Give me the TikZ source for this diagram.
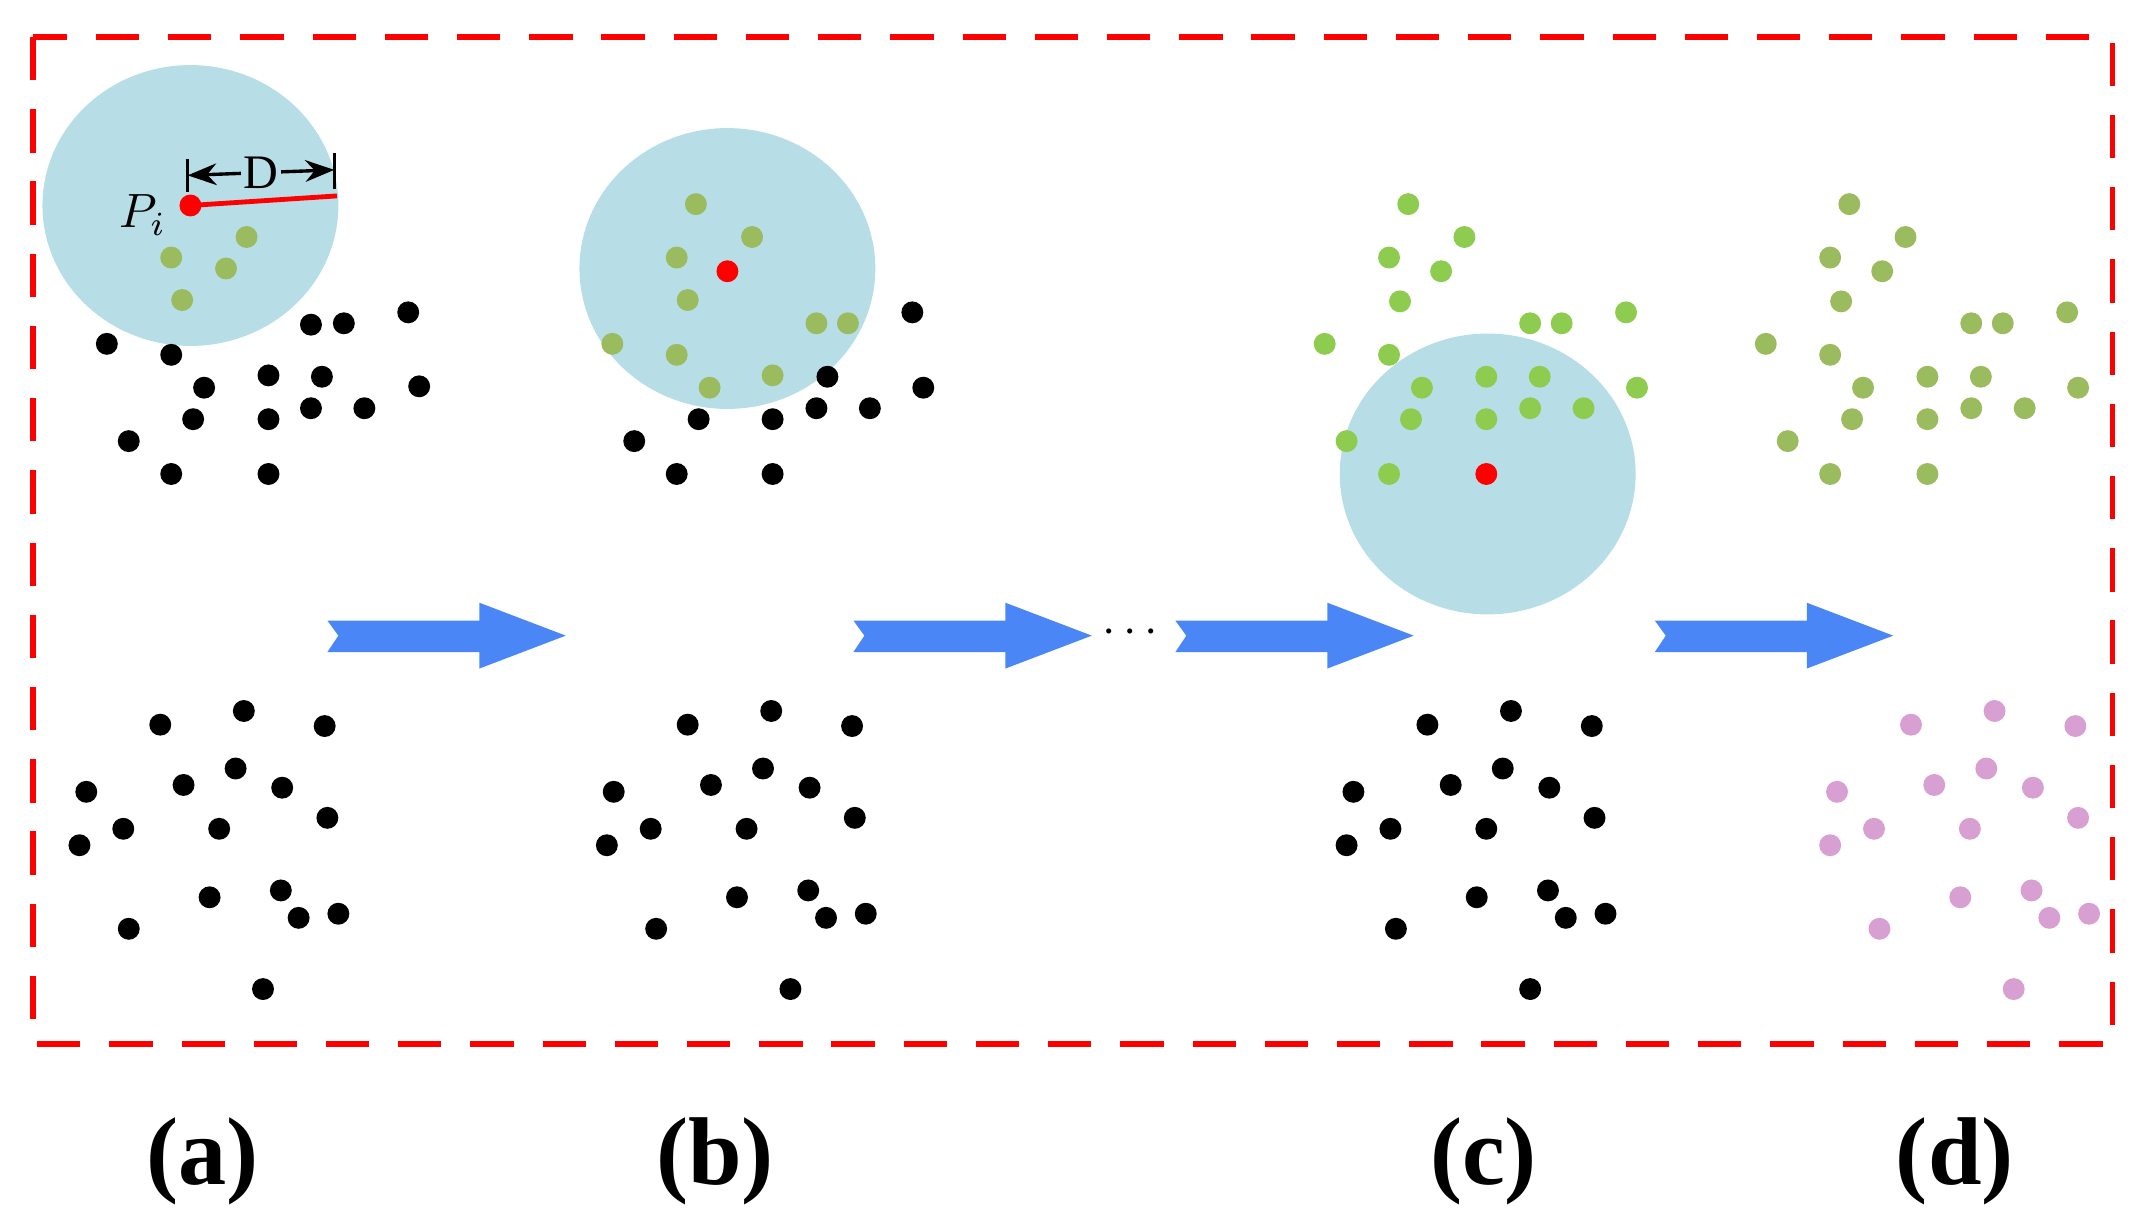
\documentclass[tikz,border=0pt]{standalone}
\usepackage{fontspec}
\setmainfont{Liberation Serif}
\usetikzlibrary{arrows.meta,
                shapes.geometric, % For the ellipse zones
                positioning, % For easy node-relative placements
               }
\definecolor{zone}{HTML}{B7DDE6}
\definecolor{olive}{HTML}{9BBB5F}
\definecolor{lime}{HTML}{8DCC4F}
\definecolor{pink}{HTML}{D79FD2}
\definecolor{flow}{HTML}{4A86F5}
\newlength{\pxl}
\setlength{\pxl}{0.1mm}
\tikzstyle{pt} = [circle, inner sep=0pt, minimum size=16\pxl]
\tikzstyle{zone} = [ellipse, fill=zone, inner sep=0pt, minimum width=216\pxl, minimum height=205\pxl]
\tikzstyle{flowarrow} = [fill=flow]
\tikzstyle{caption} = [font=\bfseries\fontsize{20}{22}\selectfont]

\begin{document}
\begin{tikzpicture}[x=0.1mm, y=-0.1mm]
  \useasboundingbox (0,0) rectangle (1560,899);
  \draw [red, line width=1.1pt, dash pattern=on 9pt off 6pt] (24,27) rectangle (1542,762);

  % (a)
  \node (za) [zone] at (139,150) {};
  \foreach \x/\y [count=\i] in {125/188, 180/173, 165/196, 133/219}
    \node (ga\i) [pt, fill=olive] at (\x,\y) {};
  \foreach \x/\y [count=\i] in {78/251, 125/259, 227/237, 251/236, 298/228, 149/283, 196/274, 235/275, 306/282, 141/306, 196/306, 227/298, 266/298, 94/322, 125/346, 196/346}
    \node (ka\i) [pt, fill=black] at (\x,\y) {};
  \node (pa) [pt, fill=red] at (139,150) {};
  \coordinate (ea) at (246,143);
  \draw [red, line width=1pt] (pa.center) -- (ea);
  \node (pi) [left=-1pt of pa, font=\fontsize{10}{11}\selectfont, yshift=-2pt] {$P_i$};
  \coordinate (ta1) at (137,116); \coordinate (ta2) at (137,140);
  \coordinate (tb1) at (244,112); \coordinate (tb2) at (244,138);
  \draw [line width=0.7pt] (ta1) -- (ta2) (tb1) -- (tb2);
  \draw [{Stealth[length=6pt]}-{Stealth[length=6pt]}, line width=0.7pt] (137,128) -- (244,124)
    node (dd) [midway, fill=zone, inner sep=0.5pt, font=\fontsize{10}{10}\selectfont] {D};
  \foreach \x/\y [count=\i] in {117/529, 178/519, 237/530, 63/578, 134/573, 172/561, 206/575, 90/605, 160/605, 239/597, 58/617, 153/655, 205/650, 218/670, 247/667, 94/678, 192/722}
    \node (la\i) [pt, fill=black] at (\x,\y) {};

  % (b)
  \node (zb) [zone] at (531,196) {};
  \foreach \x/\y [count=\i] in {508/149, 549/173, 494/188, 502/219, 447/251, 494/259, 596/236, 619/236, 518/283, 564/274}
    \node (gb\i) [pt, fill=olive] at (\x,\y) {};
  \foreach \x/\y [count=\i] in {666/228, 604/275, 674/283, 510/306, 564/306, 596/298, 635/298, 463/322, 494/346, 564/346}
    \node (kb\i) [pt, fill=black] at (\x,\y) {};
  \node (pb) [pt, fill=red] at (531,198) {};
  \foreach \x/\y [count=\i] in {117/529, 178/519, 237/530, 63/578, 134/573, 172/561, 206/575, 90/605, 160/605, 239/597, 58/617, 153/655, 205/650, 218/670, 247/667, 94/678, 192/722}
    \node (lb\i) [pt, fill=black] at (\x+385,\y) {};

  % (c)
  \node (zc) [zone] at (1086,346) {};
  \foreach \x/\y [count=\i] in {1028/149, 1069/173, 1014/188, 1052/198, 1022/220, 967/251, 1014/259, 1117/236, 1140/236, 1187/228, 1038/283, 1085/275, 1124/275, 1195/283, 1030/306, 1085/306, 1117/298, 1156/298, 983/322, 1014/346}
    \node (gc\i) [pt, fill=lime] at (\x,\y) {};
  \node (pc) [pt, fill=red] at (1085,346) {};
  \foreach \x/\y [count=\i] in {117/529, 178/519, 237/530, 63/578, 134/573, 172/561, 206/575, 90/605, 160/605, 239/597, 58/617, 153/655, 205/650, 218/670, 247/667, 94/678, 192/722}
    \node (lc\i) [pt, fill=black] at (\x+925,\y) {};

  % (d)
  \foreach \x/\y [count=\i] in {1028/149, 1069/173, 1014/188, 1052/198, 1022/220, 967/251, 1014/259, 1117/236, 1140/236, 1187/228, 1038/283, 1085/275, 1124/275, 1195/283, 1030/306, 1085/306, 1117/298, 1156/298, 983/322, 1014/346, 1085/346}
    \node (gd\i) [pt, fill=olive] at (\x+322,\y) {};
  \foreach \x/\y [count=\i] in {117/529, 178/519, 237/530, 63/578, 134/573, 172/561, 206/575, 90/605, 160/605, 239/597, 58/617, 153/655, 205/650, 218/670, 247/667, 94/678, 192/722}
    \node (ld\i) [pt, fill=pink] at (\x+1278,\y) {};

  % arrows
  \foreach \s in {239, 623, 858, 1208}
    \fill [flowarrow] (\s,453) -- (\s+111,453) -- (\s+111,440) -- (\s+174,464) -- (\s+111,488)
      -- (\s+111,476) -- (\s,476) -- (\s+8,464) -- cycle;
  \node (dots) at (825,462) {$\cdots$};

  \node (ca) [caption] at (148,848) {(a)};
  \node (cb) [caption] at (522,848) {(b)};
  \node (cc) [caption] at (1083,848) {(c)};
  \node (cd) [caption] at (1427,848) {(d)};
\end{tikzpicture}
\end{document}
